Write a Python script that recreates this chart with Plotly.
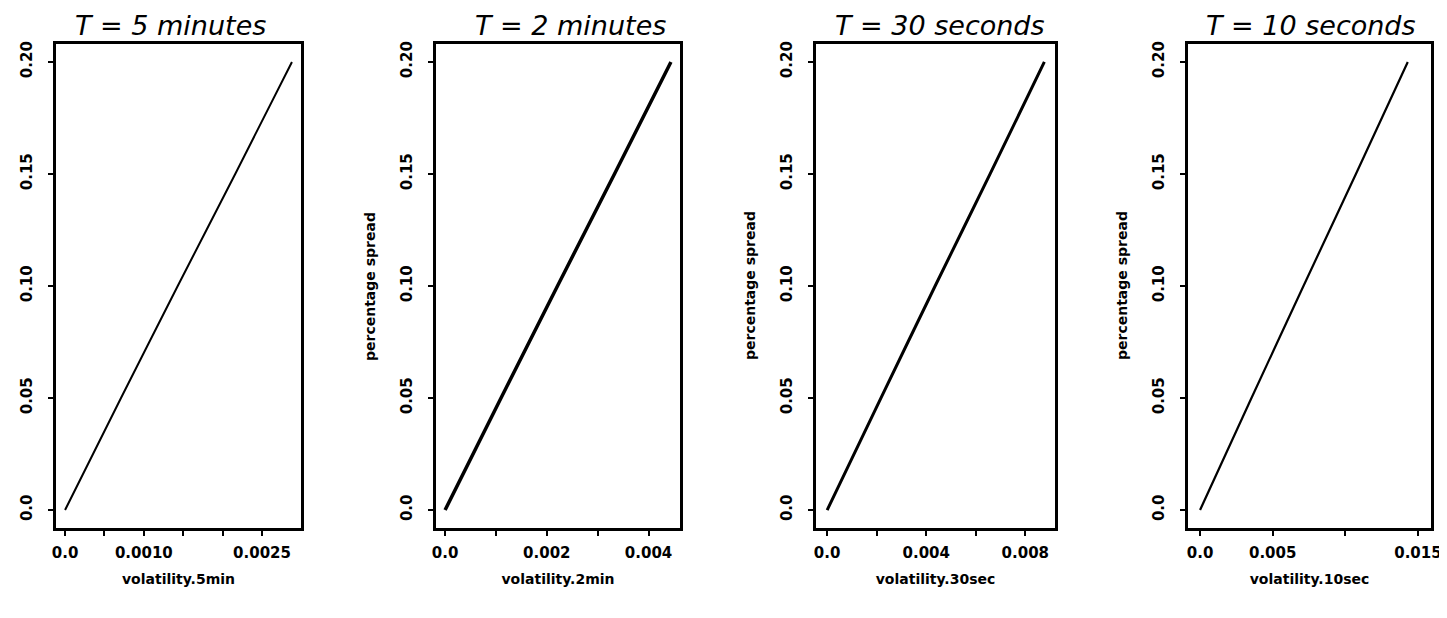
import plotly.graph_objects as go

# ---- data ----
spread = [0.0, 0.05, 0.10, 0.15, 0.20]

vol_5min = [0.0, 0.00071, 0.00143, 0.00216, 0.00288]
vol_2min = [0.0, 0.00110, 0.00221, 0.00333, 0.00444]
vol_30sec = [0.0, 0.00217, 0.00436, 0.00658, 0.00877]
vol_10sec = [0.0, 0.00354, 0.00712, 0.01073, 0.01430]

panel_titles = ["T = 5 minutes", "T = 2 minutes", "T = 30 seconds", "T = 10 seconds"]
x_titles = ["volatility.5min", "volatility.2min", "volatility.30sec", "volatility.10sec"]

x_tickvals = [
    [0.0, 0.0005, 0.0010, 0.0015, 0.0020, 0.0025],
    [0.0, 0.001, 0.002, 0.003, 0.004],
    [0.0, 0.002, 0.004, 0.006, 0.008],
    [0.0, 0.005, 0.010, 0.015],
]
x_ticktext = [
    ["0.0", "", "0.0010", "", "", "0.0025"],
    ["0.0", "", "0.002", "", "0.004"],
    ["0.0", "", "0.004", "", "0.008"],
    ["0.0", "0.005", "", "0.015"],
]
y_tickvals = [0.0, 0.05, 0.10, 0.15, 0.20]
y_ticktext = ["0.0", "0.05", "0.10", "0.15", "0.20"]
y_title = "percentage spread"

series = [vol_5min, vol_2min, vol_30sec, vol_10sec]
line_widths = [2, 3.5, 3, 2.2]

# ---- layout geometry ----
W, H = 1447, 618
x_domains_px = [(48, 293), (428, 672), (808, 1047), (1180, 1423)]
title_shift_px = [-8, 12, 4, 1]
x_ranges = [
    [-0.000115, 0.002995],
    [-0.000178, 0.004618],
    [-0.00045, 0.00920],
    [-0.00083, 0.0159],
]
y_range = [-0.008, 0.208]
y_top_px, y_bot_px = 36, 520
y_domain = [1 - y_bot_px / H, 1 - y_top_px / H]

fig = go.Figure()
annotations = []
tick_font = dict(family="DejaVu Sans", size=15, color="black", weight="bold")
label_font = dict(family="DejaVu Sans", size=14, color="black", weight="bold")

for i, xs in enumerate(series):
    n = "" if i == 0 else str(i + 1)
    fig.add_trace(go.Scatter(
        x=xs, y=spread, mode="lines",
        line=dict(color="black", width=line_widths[i], shape="spline", smoothing=0.6),
        xaxis="x" + n, yaxis="y" + n, showlegend=False, hoverinfo="skip",
    ))
    x0, x1 = x_domains_px[i]
    fig.update_layout(**{
        "xaxis" + n: dict(
            domain=[x0 / W, x1 / W], anchor="y" + n, range=x_ranges[i],
            tickvals=x_tickvals[i], ticktext=x_ticktext[i], ticks="outside", ticklen=5,
            tickwidth=1.5, tickcolor="black", showline=True, linecolor="black", linewidth=2.5,
            mirror=True, showgrid=False, zeroline=False, tickfont=tick_font,
            ticklabelstandoff=4,
            title=dict(text=x_titles[i], font=label_font, standoff=14),
            automargin=False,
        ),
        "yaxis" + n: dict(
            domain=y_domain, anchor="x" + n, range=y_range,
            tickvals=y_tickvals, ticktext=y_ticktext, tickangle=-90, ticks="outside",
            ticklen=5, tickwidth=1.5, tickcolor="black", showline=True, linecolor="black",
            linewidth=2.5, mirror=True, showgrid=False, zeroline=False, tickfont=tick_font,
            ticklabelstandoff=10, automargin=False,
        ),
    })
    annotations.append(dict(
        text=panel_titles[i], xref="x" + n + " domain", yref="paper", x=0.5, y=1 - 18 / H,
        xshift=title_shift_px[i], xanchor="center", yanchor="middle", showarrow=False,
        font=dict(family="DejaVu Sans", size=27, color="black", style="italic"),
    ))
    if i > 0:
        annotations.append(dict(
            text=y_title, xref="x" + n + " domain", yref="y" + n, x=0, y=0.10,
            xshift=-66, xanchor="center", yanchor="middle", textangle=-90, showarrow=False,
            font=label_font,
        ))

fig.update_layout(
    width=W, height=H, margin=dict(l=0, r=0, t=0, b=0),
    paper_bgcolor="white", plot_bgcolor="white", annotations=annotations,
)
fig.write_html("out.html")
